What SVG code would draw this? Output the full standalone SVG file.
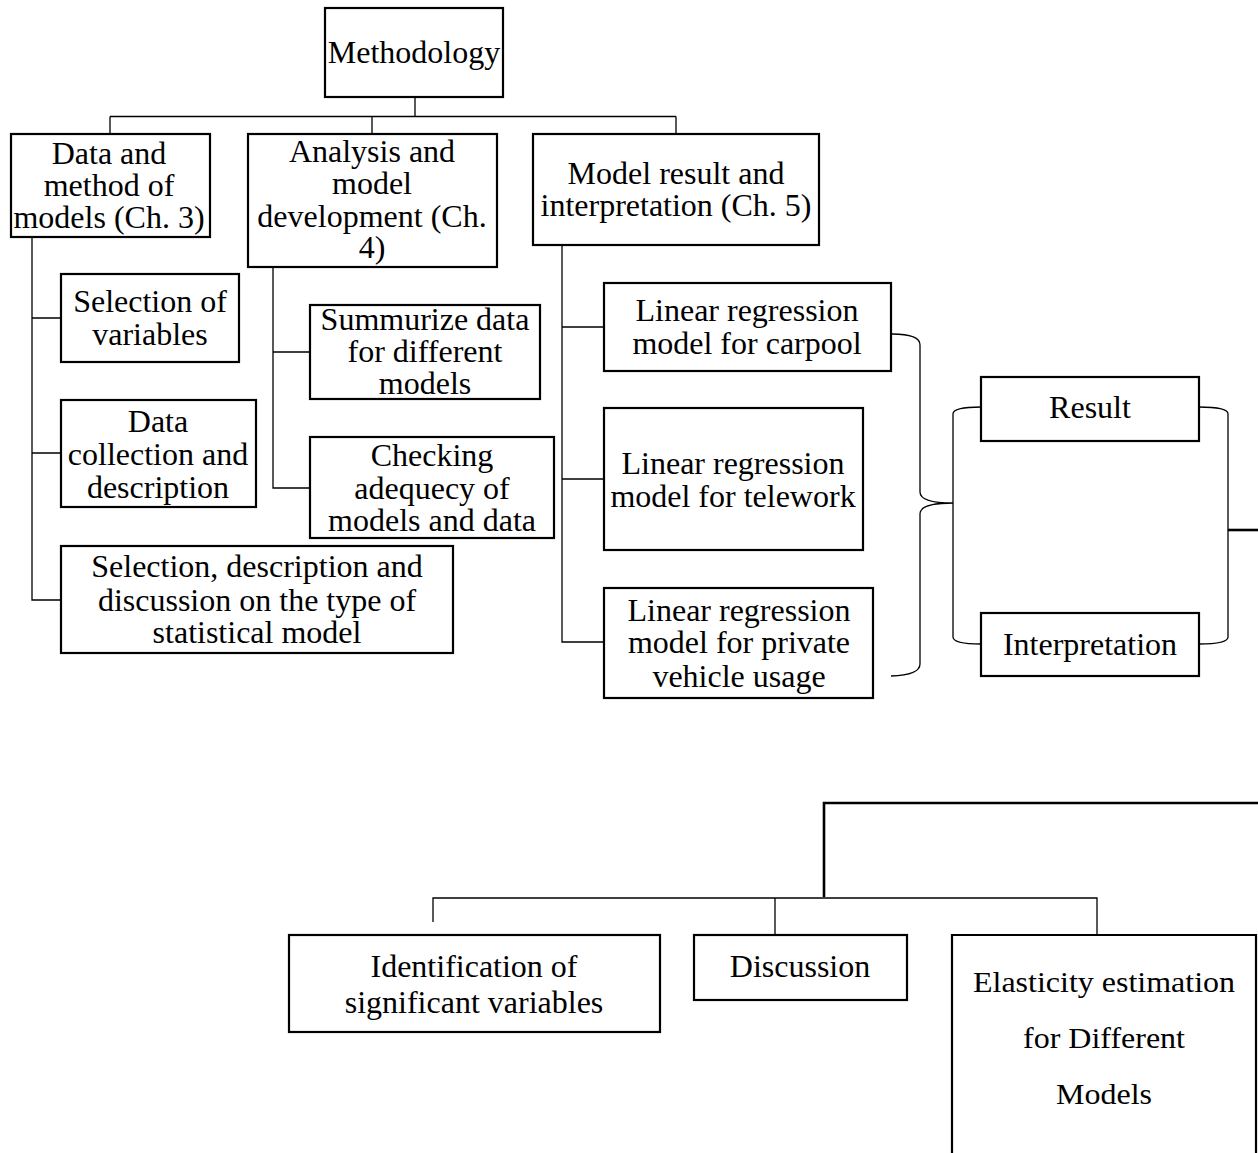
<svg xmlns="http://www.w3.org/2000/svg" width="1258" height="1153" viewBox="0 0 1258 1153">
<style>
.box{fill:#fff;stroke:#000;stroke-width:2.2}
.ln{fill:none;stroke:#000;stroke-width:1.3}
.thick{fill:none;stroke:#000;stroke-width:2.6}
text{font-family:'Times New Roman',Times,serif;font-size:32px;fill:#000;text-anchor:middle}
</style>
<rect width="1258" height="1153" fill="#fff"/>
<g id="connectors">
<path class="ln" d="M415 97V116.5M110 116.5H676M110 116.5V134M372 116.5V134M676 116.5V134"/>
<path class="ln" d="M32 237V600H61M32 318H61M32 453H61"/>
<path class="ln" d="M273 267V488H310M273 352H310"/>
<path class="ln" d="M562 245V642H604M562 327H604M562 479H604"/>
<path class="ln" d="M892 334Q920 334 920 345V492Q920 503 953 503Q920 503 920 514V664Q920 675 891 676"/>
<path class="ln" d="M981 407Q953 407 953 414V637Q953 644 981 644"/>
<path class="ln" d="M1199 407Q1228 407 1228 414V637Q1228 644 1199 644"/>
<path class="thick" d="M1228 530H1258"/>
<path class="thick" d="M824 897V803H1258"/>
<path class="ln" d="M433 922V898H1097V935M775 898V935"/>
</g>
<g id="methodology"><rect class="box" x="325" y="8" width="178" height="89"/><text x="414" y="63">Methodology</text></g>
<g id="ch3"><rect class="box" x="11" y="134" width="199" height="103"/><text x="109" y="164">Data and</text><text x="109" y="196">method of</text><text x="109" y="228">models (Ch. 3)</text></g>
<g id="ch4"><rect class="box" x="248" y="134" width="249" height="133"/><text x="372" y="162">Analysis and</text><text x="372" y="194">model</text><text x="372" y="227">development (Ch.</text><text x="372" y="258">4)</text></g>
<g id="ch5"><rect class="box" x="533" y="134" width="286" height="111"/><text x="676" y="184">Model result and</text><text x="676" y="216">interpretation (Ch. 5)</text></g>
<g id="selvar"><rect class="box" x="61" y="274" width="178" height="88"/><text x="150" y="312">Selection of</text><text x="150" y="345">variables</text></g>
<g id="datacol"><rect class="box" x="61" y="400" width="195" height="107"/><text x="158" y="432">Data</text><text x="158" y="465">collection and</text><text x="158" y="498">description</text></g>
<g id="selstat"><rect class="box" x="61" y="546" width="392" height="107"/><text x="257" y="577">Selection, description and</text><text x="257" y="611">discussion on the type of</text><text x="257" y="643">statistical model</text></g>
<g id="summ"><rect class="box" x="310" y="305" width="230" height="94"/><text x="425" y="330">Summurize data</text><text x="425" y="362">for different</text><text x="425" y="394">models</text></g>
<g id="check"><rect class="box" x="310" y="437" width="244" height="101"/><text x="432" y="466">Checking</text><text x="432" y="499">adequecy of</text><text x="432" y="531">models and data</text></g>
<g id="carpool"><rect class="box" x="604" y="283" width="287" height="88"/><text x="747" y="321">Linear regression</text><text x="747" y="354">model for carpool</text></g>
<g id="telework"><rect class="box" x="604" y="408" width="259" height="142"/><text x="733" y="474">Linear regression</text><text x="733" y="507">model for telework</text></g>
<g id="private"><rect class="box" x="604" y="588" width="269" height="110"/><text x="739" y="621">Linear regression</text><text x="739" y="653">model for private</text><text x="739" y="687">vehicle usage</text></g>
<g id="result"><rect class="box" x="981" y="377" width="218" height="64"/><text x="1090" y="418">Result</text></g>
<g id="interp"><rect class="box" x="981" y="613" width="218" height="63"/><text x="1090" y="655">Interpretation</text></g>
<g id="ident"><rect class="box" x="289" y="935" width="371" height="97"/><text x="474" y="977">Identification of</text><text x="474" y="1013">significant variables</text></g>
<g id="discussion"><rect class="box" x="694" y="935" width="213" height="65"/><text x="800" y="977">Discussion</text></g>
<g id="elasticity"><path class="box" d="M952 1156V935H1256V1156"/><text transform="translate(1104 992) scale(1 0.92)">Elasticity estimation</text><text transform="translate(1104 1048) scale(1 0.92)">for Different</text><text transform="translate(1104 1104) scale(1 0.92)">Models</text></g>
</svg>
